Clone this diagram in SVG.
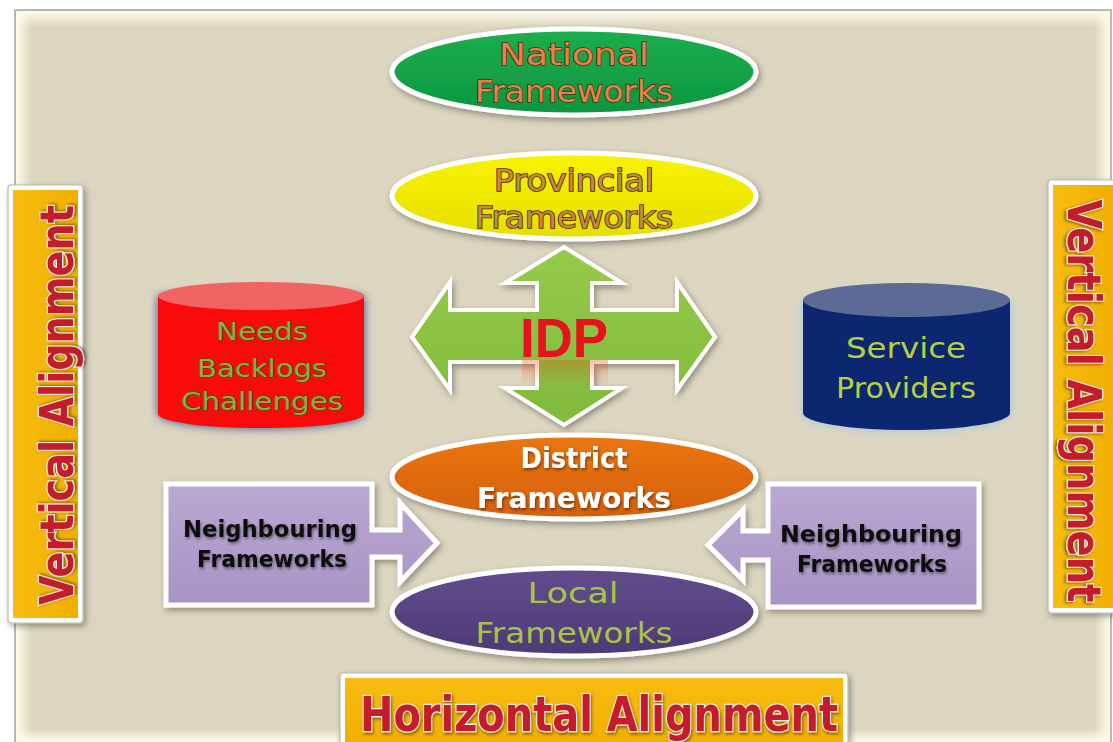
<svg xmlns="http://www.w3.org/2000/svg" width="1113" height="742" viewBox="0 0 1113 742">
<defs>
  <linearGradient id="gGreen" x1="0" y1="0" x2="0" y2="1"><stop offset="0" stop-color="#1cae4e"/><stop offset="1" stop-color="#0b963f"/></linearGradient>
  <linearGradient id="gYellow" x1="0" y1="0" x2="0" y2="1"><stop offset="0" stop-color="#f8f400"/><stop offset="1" stop-color="#e6de00"/></linearGradient>
  <linearGradient id="gOrange" x1="0" y1="0" x2="0" y2="1"><stop offset="0" stop-color="#ea7612"/><stop offset="1" stop-color="#d66006"/></linearGradient>
  <linearGradient id="gPurple" x1="0" y1="0" x2="0" y2="1"><stop offset="0" stop-color="#614d8c"/><stop offset="1" stop-color="#4c3a76"/></linearGradient>
  <linearGradient id="gArrow" x1="0" y1="0" x2="0" y2="1"><stop offset="0" stop-color="#96ca4a"/><stop offset="1" stop-color="#80ba3c"/></linearGradient>
  <linearGradient id="gLav" x1="0" y1="0" x2="0" y2="1"><stop offset="0" stop-color="#b9a8d2"/><stop offset="1" stop-color="#a894c4"/></linearGradient>
  <linearGradient id="gBar" x1="0" y1="0" x2="0" y2="1"><stop offset="0" stop-color="#f7bd10"/><stop offset="1" stop-color="#f0ae00"/></linearGradient>
  <linearGradient id="gBarV" x1="0" y1="0" x2="1" y2="0"><stop offset="0" stop-color="#f7bd10"/><stop offset="1" stop-color="#f0ae00"/></linearGradient>
  <linearGradient id="gTop" x1="0" y1="0" x2="0" y2="1"><stop offset="0" stop-color="#fffce8"/><stop offset="1" stop-color="#fffce8" stop-opacity="0"/></linearGradient>
  <linearGradient id="gLeft" x1="0" y1="0" x2="1" y2="0"><stop offset="0" stop-color="#fffce8"/><stop offset="1" stop-color="#fffce8" stop-opacity="0"/></linearGradient>
  <linearGradient id="gRight" x1="1" y1="0" x2="0" y2="0"><stop offset="0" stop-color="#fffce8"/><stop offset="1" stop-color="#fffce8" stop-opacity="0"/></linearGradient>
  <linearGradient id="gBottom" x1="0" y1="1" x2="0" y2="0"><stop offset="0" stop-color="#fffce8"/><stop offset="1" stop-color="#fffce8" stop-opacity="0"/></linearGradient>
  <linearGradient id="gRefl" x1="0" y1="0" x2="0" y2="1"><stop offset="0" stop-color="#e8501c" stop-opacity="0.35"/><stop offset="1" stop-color="#e8501c" stop-opacity="0"/></linearGradient>
  <filter id="shadow" x="-20%" y="-30%" width="140%" height="160%">
    <feDropShadow dx="2" dy="3" stdDeviation="3" flood-color="#000" flood-opacity="0.35"/>
  </filter>
  <filter id="txtShadow" x="-10%" y="-30%" width="120%" height="160%">
    <feDropShadow dx="1" dy="2" stdDeviation="1.5" flood-color="#000" flood-opacity="0.45"/>
  </filter>
  <filter id="glowBlue" x="-20%" y="-20%" width="140%" height="140%">
    <feGaussianBlur stdDeviation="5"/>
  </filter>
</defs>
<style>
  .ell { stroke: #ffffff; stroke-width: 5; filter: url(#shadow); }
  .lbl { font-family: "DejaVu Sans", "Liberation Sans", sans-serif; text-anchor: middle; }
  .nat { fill: #e4844c; stroke: #5a2a10; stroke-width: 1.5; font-size: 30px; paint-order: stroke; }
  .prov { fill: #c48c3c; stroke: #4a2808; stroke-width: 1.6; font-size: 30px; paint-order: stroke; }
  .dist { fill: #ffffff; font-size: 29px; font-weight: bold; filter: url(#txtShadow); }
  .loc { fill: #a8c448; font-size: 29px; }
  .needs { fill: #8cae46; stroke: #3a4a18; stroke-width: 1; font-size: 24px; paint-order: stroke; }
  .serv { fill: #b6d140; font-size: 28px; }
  .nb { fill: #111111; font-size: 23px; font-weight: bold; filter: url(#txtShadow); }
  .align { font-family: "DejaVu Sans", "Liberation Sans", sans-serif; fill: #c41f2c; stroke: #f4ece4; stroke-width: 2.5; paint-order: stroke; font-weight: bold; filter: url(#txtShadow); }
  .callout { fill: url(#gLav); stroke: #ffffff; stroke-width: 5; stroke-linejoin: miter; filter: url(#shadow); }
  .barOuter { fill: #ffffff; stroke: #b8b8b0; stroke-width: 1.2; filter: url(#shadow); }
</style>

<rect x="0" y="0" width="1113" height="742" fill="#ffffff"/>
<g id="background">
  <rect x="15" y="10" width="1096" height="732" fill="#dcd6c0" stroke="#a8a8a4" stroke-width="1.5"/>
  <rect x="16" y="11" width="1094" height="16" fill="url(#gTop)"/>
  <rect x="16" y="11" width="16" height="730" fill="url(#gLeft)"/>
  <rect x="1094" y="11" width="16" height="730" fill="url(#gRight)"/>
  <rect x="16" y="728" width="1094" height="14" fill="url(#gBottom)"/>
</g>

<g id="connectors"></g>

<g id="national">
  <ellipse class="ell" cx="574" cy="72" rx="182" ry="43" fill="url(#gGreen)"/>
  <text class="lbl nat" x="574" y="65" textLength="150" lengthAdjust="spacingAndGlyphs">National</text>
  <text class="lbl nat" x="574" y="102" textLength="198" lengthAdjust="spacingAndGlyphs">Frameworks</text>
</g>

<g id="provincial">
  <ellipse class="ell" cx="574" cy="196" rx="182" ry="43" fill="url(#gYellow)"/>
  <text class="lbl prov" x="574" y="191" textLength="160" lengthAdjust="spacingAndGlyphs">Provincial</text>
  <text class="lbl prov" x="574" y="228" textLength="198" lengthAdjust="spacingAndGlyphs">Frameworks</text>
</g>

<g id="idp">
  <path d="M564,247 L622,283 L592,283 L592,310 L677,310 L677,282 L715,337 L677,390 L677,362 L592,362 L592,388 L622,388 L564,425 L505,388 L537,388 L537,362 L450,362 L450,390 L412,337 L450,282 L450,310 L537,310 L537,283 L505,283 Z" fill="url(#gArrow)" stroke="#ffffff" stroke-width="4" stroke-linejoin="miter" filter="url(#shadow)"/>
  <rect x="522" y="360" width="86" height="26" fill="url(#gRefl)"/>
  <text x="564" y="357" font-family="Liberation Sans, Arial, sans-serif" font-weight="bold" font-size="56" fill="#e8121c" text-anchor="middle" textLength="88" lengthAdjust="spacingAndGlyphs">IDP</text>
</g>

<g id="needs">
  <path d="M158,296 L158,414 A103,14 0 0 0 364,414 L364,296 Z" fill="#2e4e88" filter="url(#glowBlue)"/>
  <path d="M158,296 L158,414 A103,14 0 0 0 364,414 L364,296 Z" fill="#fa0a0a"/>
  <ellipse cx="261" cy="296" rx="103" ry="14" fill="#f26464"/>
  <text class="lbl needs" x="262" y="340" textLength="92" lengthAdjust="spacingAndGlyphs">Needs</text>
  <text class="lbl needs" x="262" y="377" textLength="130" lengthAdjust="spacingAndGlyphs">Backlogs</text>
  <text class="lbl needs" x="262" y="410" textLength="162" lengthAdjust="spacingAndGlyphs">Challenges</text>
</g>

<g id="service">
  <path d="M803,300 L803,413 A103.5,17 0 0 0 1010,413 L1010,300 Z" fill="#9ec4e6" filter="url(#glowBlue)"/>
  <path d="M803,300 L803,413 A103.5,17 0 0 0 1010,413 L1010,300 Z" fill="#0d2670"/>
  <ellipse cx="906.5" cy="300" rx="103.5" ry="17" fill="#5b6b96"/>
  <text class="lbl serv" x="906" y="358" textLength="120" lengthAdjust="spacingAndGlyphs">Service</text>
  <text class="lbl serv" x="906" y="398" textLength="140" lengthAdjust="spacingAndGlyphs">Providers</text>
</g>

<g id="district">
  <ellipse class="ell" cx="574" cy="477" rx="182" ry="42" fill="url(#gOrange)"/>
  <text class="lbl dist" x="574" y="468" textLength="107" lengthAdjust="spacingAndGlyphs">District</text>
  <text class="lbl dist" x="574" y="508" textLength="194" lengthAdjust="spacingAndGlyphs">Frameworks</text>
</g>

<g id="local">
  <ellipse class="ell" cx="574" cy="612" rx="182" ry="44" fill="url(#gPurple)"/>
  <text class="lbl loc" x="573" y="603" textLength="91" lengthAdjust="spacingAndGlyphs">Local</text>
  <text class="lbl loc" x="574" y="643" textLength="197" lengthAdjust="spacingAndGlyphs">Frameworks</text>
</g>

<g id="neighbouring-left">
  <path class="callout" d="M166,484 H372 V530 H400 V503 L437,543 L400,582 V557 H372 V605 H166 Z"/>
  <text class="lbl nb" x="270" y="537" textLength="174" lengthAdjust="spacingAndGlyphs">Neighbouring</text>
  <text class="lbl nb" x="272" y="567" textLength="150" lengthAdjust="spacingAndGlyphs">Frameworks</text>
</g>

<g id="neighbouring-right">
  <path class="callout" d="M979,484 H768 V531 H743 V510 L708,545 L743,580 V560 H768 V607 H979 Z"/>
  <text class="lbl nb" x="871" y="542" textLength="182" lengthAdjust="spacingAndGlyphs">Neighbouring</text>
  <text class="lbl nb" x="872" y="572" textLength="150" lengthAdjust="spacingAndGlyphs">Frameworks</text>
</g>

<g id="vertical-left">
  <rect class="barOuter" x="8" y="185" width="75" height="438" rx="3"/>
  <rect x="13" y="190" width="65" height="428" fill="url(#gBarV)"/>
  <text class="align" font-size="46" text-anchor="middle" transform="translate(73,405) rotate(-90)" textLength="400" lengthAdjust="spacingAndGlyphs">Vertical Alignment</text>
</g>

<g id="vertical-right">
  <rect class="barOuter" x="1048" y="180" width="70" height="433" rx="3"/>
  <rect x="1053" y="185" width="62" height="423" fill="url(#gBarV)"/>
  <text class="align" font-size="46" text-anchor="middle" transform="translate(1068,401) rotate(90)" textLength="403" lengthAdjust="spacingAndGlyphs">Vertical Alignment</text>
</g>

<g id="horizontal">
  <rect class="barOuter" x="340" y="673" width="508" height="75" rx="3"/>
  <rect x="345" y="678" width="498" height="70" fill="url(#gBar)"/>
  <text class="align" font-size="48" x="599" y="731" text-anchor="middle" textLength="478" lengthAdjust="spacingAndGlyphs">Horizontal Alignment</text>
</g>
</svg>
